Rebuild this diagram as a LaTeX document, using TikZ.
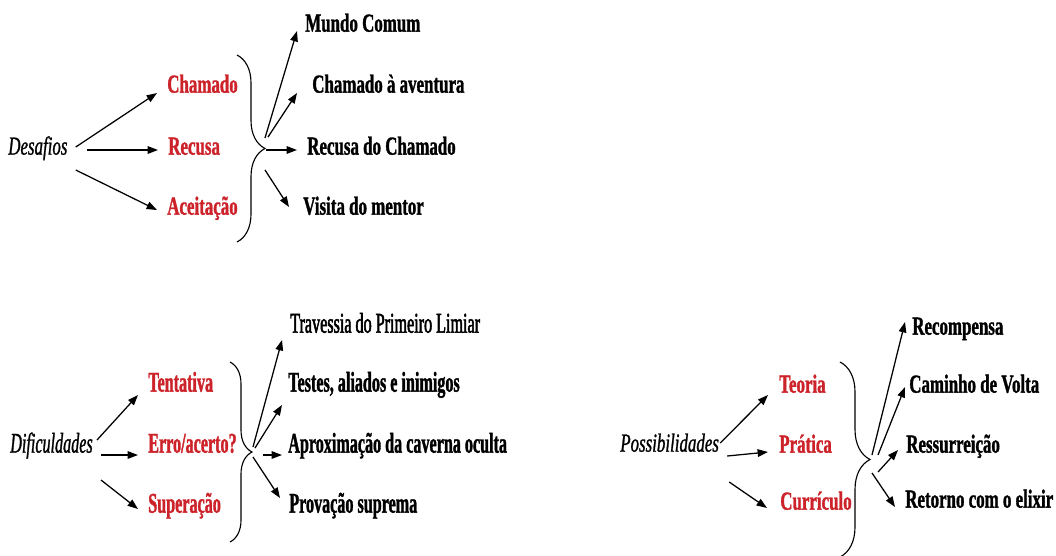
\documentclass[tikz,border=0pt]{standalone}
\usepackage{fontspec}
\setmainfont{Liberation Serif}[FakeStretch=0.65, BoldFeatures={FakeBold=1.2}, ItalicFeatures={FakeBold=1}]
\newfontfamily\narrowfont{Liberation Serif}[FakeStretch=0.565, BoldFeatures={FakeBold=1.2}, ItalicFeatures={FakeBold=1}]
\newfontfamily\narrowmed{Liberation Serif}[FakeStretch=0.565, FakeBold=1.8]
\usepackage{xcolor}
\usetikzlibrary{arrows.meta, positioning, calc, decorations.pathreplacing}
\definecolor{stagered}{HTML}{CC2229}

\begin{document}
\begin{tikzpicture}[
  x=0.025cm, y=-0.025cm,
  txt/.style={anchor=west, inner sep=0pt, text height=0.66em, text depth=0pt,
              font=\fontsize{18.5}{20}\selectfont\bfseries},
  root/.style={txt, font=\fontsize{18.5}{20}\selectfont\itshape},
  stage/.style={txt, text=stagered},
  tall/.style={font=\narrowfont\fontsize{20.3}{22}\selectfont\bfseries},
  tallit/.style={font=\narrowfont\fontsize{20.3}{22}\selectfont\itshape},
  arr/.style={-{Triangle[length=2.6mm, width=1.9mm]}, line width=0.9pt, black},
  brc/.style={decorate, decoration={brace, amplitude=#1, aspect=0.5}, line width=0.8pt}
]
\useasboundingbox (0,0) rectangle (1056,555);

% Desafios
\node[root]  (des) at (8,150)  {Desafios};
\node[stage] (cha) at (167,88) {Chamado};
\node[stage] (rec) at (168,150) {Recusa};
\node[stage] (ace) at (167,210) {Aceitação};
\node[txt] (mun) at (305,27)  {Mundo Comum};
\node[txt] (cav) at (312,88)  {Chamado à aventura};
\node[txt] (rdc) at (307,150) {Recusa do Chamado};
\node[txt] (vis) at (303,210) {Visita do mentor};
\coordinate (bt1) at (237,55); \coordinate (bb1) at (237,242);
\coordinate (tip1) at (265,148);
\draw[brc=0.7cm] (bt1) -- (bb1);

\draw[arr] ($(des.east)+(8,-3)$) -- ($(cha.west)+(-10,5)$);
\draw[arr] ($(des.east)+(19,0)$) -- ($(rec.west)+(-10,0)$);
\draw[arr] ($(des.east)+(8,20)$) -- ($(ace.west)+(-10,0)$);
\draw[arr] ($(tip1)+(0,-10)$) -- ($(mun.west)+(-8,4)$);
\draw[arr] ($(tip1)+(3,-11)$) -- ($(cav.west)+(-15,5)$);
\draw[arr] ($(tip1)+(1,2)$) -- ($(rdc.west)+(-10,0)$);
\draw[arr] ($(tip1)+(0,22)$) -- ($(vis.west)+(-14,-3)$);

% Dificuldades
\node[root, tallit] (dif) at (10,448)  {Dificuldades};
\node[stage, tall]  (ten) at (148,387) {Tentativa};
\node[stage, tall]  (err) at (148,448) {Erro/acerto?};
\node[stage, tall]  (sup) at (148,508) {Superação};
\node[txt, font=\narrowmed\fontsize{20.3}{22}\selectfont] (tra) at (290,328) {Travessia do Primeiro Limiar};
\node[txt, tall] (tes) at (288,387) {Testes, aliados e inimigos};
\node[txt, tall] (apr) at (288,448) {Aproximação da caverna oculta};
\node[txt, tall] (pro) at (289,508) {Provação suprema};
\coordinate (bt2) at (230,362); \coordinate (bb2) at (230,542);
\coordinate (tip2) at (252,452);
\draw[brc=0.55cm] (bt2) -- (bb2);

\draw[arr] ($(dif.east)+(4,-8)$) -- ($(ten.west)+(-10,8)$);
\draw[arr] ($(dif.east)+(8,7)$) -- ($(err.west)+(-10,7)$);
\draw[arr] ($(dif.east)+(8,32)$) -- ($(sup.west)+(-10,1)$);
\draw[arr] ($(tip2)+(1,-5)$) -- ($(tra.west)+(-8,12)$);
\draw[arr] ($(tip2)+(3,-4)$) -- ($(tes.west)+(-6,18)$);
\draw[arr] ($(tip2)+(11,3)$) -- ($(apr.west)+(-6,7)$);
\draw[arr] ($(tip2)+(1,5)$) -- ($(pro.west)+(-9,-10)$);

% Possibilidades
\node[root]  (pos) at (620,447) {Possibilidades};
\node[stage] (teo) at (779,388) {Teoria};
\node[stage] (pra) at (779,448) {Prática};
\node[stage] (cur) at (780,505) {Currículo};
\node[txt] (rcp) at (912,330) {Recompensa};
\node[txt] (cam) at (909,388) {Caminho de Volta};
\node[txt] (res) at (906,448) {Ressurreição};
\node[txt] (ret) at (905,503) {Retorno com o elixir};
\coordinate (bt3) at (840,362); \coordinate (bb3) at (840,557);
\coordinate (tip3) at (870,459);
\draw[brc=0.75cm] (bt3) -- (bb3);

\draw[arr] ($(pos.east)+(1,-4)$) -- ($(teo.west)+(-11,7)$);
\draw[arr] ($(pos.east)+(8,9)$) -- ($(pra.west)+(-11,4)$);
\draw[arr] ($(pos.east)+(10,35)$) -- ($(cur.west)+(-13,3)$);
\draw[arr] ($(tip3)+(2,-4)$) -- ($(rcp.west)+(-7,-8)$);
\draw[arr] ($(tip3)+(8,-4)$) -- ($(cam.west)+(-4,-1)$);
\draw[arr] ($(tip3)+(8,13)$) -- ($(res.west)+(-8,2)$);
\draw[arr] ($(tip3)+(2,14)$) -- ($(ret.west)+(-10,4)$);
\end{tikzpicture}
\end{document}
